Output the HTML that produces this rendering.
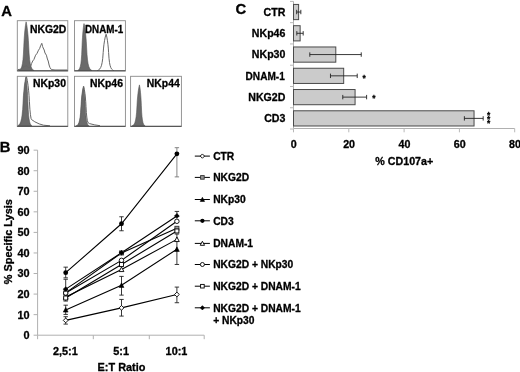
<!DOCTYPE html>
<html><head><meta charset="utf-8"><title>Figure</title>
<style>
html,body{margin:0;padding:0;background:#fff;}
body{width:520px;height:372px;overflow:hidden;font-family:"Liberation Sans",sans-serif;}
svg{display:block;will-change:transform;}
</style></head><body>
<svg width="520" height="372" viewBox="0 0 520 372">
<rect width="520" height="372" fill="#fff"/>
<g>
<clipPath id="c17_20"><rect x="17.3" y="20.7" width="50.5" height="50.3"/></clipPath>
<g clip-path="url(#c17_20)">
<path d="M18.97 70.7 L20.12 69.72 L21.16 68.25 L21.85 66.3 L22.49 63.37 L23 59.45 L23.43 54.07 L23.8 46.25 L24.08 40.38 L24.38 35.98 L24.84 30.6 L25.41 25.71 L26.1 21.8 L26.88 25.71 L27.53 30.6 L28.05 35.98 L28.39 40.38 L28.7 46.25 L29.12 54.07 L29.61 59.45 L30.18 63.37 L30.91 66.3 L31.69 68.25 L32.86 69.72 L34.16 70.7Z" fill="#6a6a6a" stroke="#555" stroke-width="0.6"/>
<path d="M17.5 69.6 L21 69.2 L24 66.5 L26.5 65.8 L28.5 67.6 L30.5 66.8 L31.6 63.5 L32.7 61 L33.9 59.5 L35.6 55.2 L37 53.4 L38.5 50.2 L39.6 48.6 L40.6 45.8 L41.8 43.3 L42.6 46.5 L43.2 48 L44.2 50 L45 53 L46.4 55.2 L47.4 59 L48.2 61 L49.1 65 L50 67.6 L51.4 69.6 L55 70 L67.8 70" fill="none" stroke="#666" stroke-width="1" stroke-linejoin="round"/>
</g>
<rect x="17.3" y="20.7" width="50.5" height="50.3" fill="none" stroke="#8a8a8a" stroke-width="0.9"/>
<line x1="17.3" y1="70.7" x2="67.8" y2="70.7" stroke="#444" stroke-width="1.1"/>
<text x="30" y="32.8" font-size="10.4" font-family="Liberation Sans, sans-serif" font-weight="bold" stroke="#000" stroke-width="0.3" stroke-linejoin="round" fill="#000">NKG2D</text>
</g>
<g>
<clipPath id="c74_20"><rect x="74.5" y="20.7" width="50.9" height="50.3"/></clipPath>
<g clip-path="url(#c74_20)">
<path d="M77.8 70.7 L78.8 69.76 L79.7 68.34 L80.3 66.46 L80.86 63.64 L81.3 59.87 L81.68 54.69 L82 47.15 L82.24 41.5 L82.5 37.26 L82.9 32.08 L83.4 27.37 L84 23.6 L84.78 27.37 L85.43 32.08 L85.95 37.26 L86.29 41.5 L86.6 47.15 L87.02 54.69 L87.51 59.87 L88.08 63.64 L88.81 66.46 L89.59 68.34 L90.76 69.76 L92.06 70.7Z" fill="#6a6a6a" stroke="#555" stroke-width="0.6"/>
<path d="M97.11 70.7 L98.56 69.97 L99.86 68.88 L100.73 67.42 L101.55 65.23 L102.18 62.31 L102.74 58.29 L103.2 52.45 L103.55 48.07 L103.92 44.79 L104.5 40.77 L105.23 37.12 L106.1 34.2 L106.85 37.12 L107.47 40.77 L107.97 44.79 L108.3 48.07 L108.6 52.45 L109 58.29 L109.47 62.31 L110.02 65.23 L110.72 67.42 L111.47 68.88 L112.6 69.97 L113.85 70.7" fill="none" stroke="#666" stroke-width="1" stroke-linejoin="round"/>
</g>
<rect x="74.5" y="20.7" width="50.9" height="50.3" fill="none" stroke="#8a8a8a" stroke-width="0.9"/>
<line x1="74.5" y1="70.7" x2="125.4" y2="70.7" stroke="#444" stroke-width="1.1"/>
<text x="85" y="32.8" font-size="10.4" textLength="38.2" lengthAdjust="spacingAndGlyphs" font-family="Liberation Sans, sans-serif" font-weight="bold" stroke="#000" stroke-width="0.3" stroke-linejoin="round" fill="#000">DNAM-1</text>
</g>
<g>
<clipPath id="c17_76"><rect x="17.3" y="76.3" width="50.5" height="50.2"/></clipPath>
<g clip-path="url(#c17_76)">
<path d="M17.22 126.2 L18.62 125.22 L19.88 123.75 L20.72 121.79 L21.5 118.85 L22.12 114.93 L22.65 109.54 L23.1 101.7 L23.44 95.82 L23.8 91.41 L24.36 86.02 L25.06 81.12 L25.9 77.2 L26.5 81.12 L27 86.02 L27.4 91.41 L27.66 95.82 L27.9 101.7 L28.22 109.54 L28.6 114.93 L29.04 118.85 L29.6 121.79 L30.2 123.75 L31.1 125.22 L32.1 126.2Z" fill="#6a6a6a" stroke="#555" stroke-width="0.6"/>
<path d="M18.65 126.2 L19.9 125.2 L21.02 123.71 L21.77 121.72 L22.47 118.73 L23.02 114.75 L23.5 109.27 L23.9 101.3 L24.2 95.32 L24.52 90.84 L25.02 85.36 L25.65 80.38 L26.4 76.4 L27.3 80.38 L28.05 85.36 L28.65 90.84 L29.04 95.32 L29.4 101.3 L29.88 109.27 L30.45 114.75 L31.11 118.73 L31.5 119.5 L34.8 121.8 L39.2 123.9 L43.5 125.2 L50 125.8" fill="none" stroke="#666" stroke-width="1" stroke-linejoin="round"/>
</g>
<rect x="17.3" y="76.3" width="50.5" height="50.2" fill="none" stroke="#8a8a8a" stroke-width="0.9"/>
<line x1="17.3" y1="126.2" x2="67.8" y2="126.2" stroke="#444" stroke-width="1.1"/>
<text x="33" y="87" font-size="10.4" font-family="Liberation Sans, sans-serif" font-weight="bold" stroke="#000" stroke-width="0.3" stroke-linejoin="round" fill="#000">NKp30</text>
</g>
<g>
<clipPath id="c74_76"><rect x="74.5" y="76.3" width="50.9" height="50.2"/></clipPath>
<g clip-path="url(#c74_76)">
<path d="M75.86 126.2 L77.08 125.4 L78.18 124.2 L78.92 122.61 L79.6 120.22 L80.14 117.02 L80.61 112.63 L81 106.25 L81.29 101.46 L81.61 97.87 L82.1 93.48 L82.72 89.49 L83.45 86.3 L84.02 89.49 L84.5 93.48 L84.88 97.87 L85.12 101.46 L85.35 106.25 L85.65 112.63 L86.02 117.02 L86.43 120.22 L86.97 122.61 L87.53 124.2 L88.39 125.4 L89.34 126.2Z" fill="#6a6a6a" stroke="#555" stroke-width="0.6"/>
<path d="M76.57 126.2 L77.72 125.41 L78.76 124.22 L79.45 122.63 L80.09 120.25 L80.59 117.07 L81.03 112.7 L81.4 106.35 L81.68 101.59 L81.98 98.01 L82.44 93.65 L83.01 89.68 L83.7 86.5 L84.39 89.68 L84.97 93.65 L85.42 98.01 L85.72 101.59 L86 106.35 L86.37 112.7 L86.81 117.07 L87.31 120.25 L87.95 122.63 L88 122.6 L89.5 123.6 L94.8 124.9 L100 125.7" fill="none" stroke="#666" stroke-width="1" stroke-linejoin="round"/>
</g>
<rect x="74.5" y="76.3" width="50.9" height="50.2" fill="none" stroke="#8a8a8a" stroke-width="0.9"/>
<line x1="74.5" y1="126.2" x2="125.4" y2="126.2" stroke="#444" stroke-width="1.1"/>
<text x="90" y="87" font-size="10.4" font-family="Liberation Sans, sans-serif" font-weight="bold" stroke="#000" stroke-width="0.3" stroke-linejoin="round" fill="#000">NKp46</text>
</g>
<g>
<clipPath id="c130_76"><rect x="130.6" y="76.3" width="50.8" height="50.2"/></clipPath>
<g clip-path="url(#c130_76)">
<path d="M131.85 126.2 L133.08 125.37 L134.18 124.14 L134.92 122.48 L135.6 120.01 L136.14 116.7 L136.61 112.16 L137 105.55 L137.29 100.59 L137.61 96.88 L138.1 92.33 L138.71 88.2 L139.45 84.9 L140.02 88.2 L140.49 92.33 L140.88 96.88 L141.12 100.59 L141.35 105.55 L141.65 112.16 L142.01 116.7 L142.43 120.01 L142.96 122.48 L143.53 124.14 L144.39 125.37 L145.34 126.2Z" fill="#6a6a6a" stroke="#555" stroke-width="0.6"/>
</g>
<rect x="130.6" y="76.3" width="50.8" height="50.2" fill="none" stroke="#8a8a8a" stroke-width="0.9"/>
<line x1="130.6" y1="126.2" x2="181.4" y2="126.2" stroke="#444" stroke-width="1.1"/>
<text x="146.8" y="87" font-size="10.4" font-family="Liberation Sans, sans-serif" font-weight="bold" stroke="#000" stroke-width="0.3" stroke-linejoin="round" fill="#000">NKp44</text>
</g>
<text x="1.2" y="15.6" font-size="14.8" font-family="Liberation Sans, sans-serif" font-weight="bold" stroke="#000" stroke-width="0.3" stroke-linejoin="round">A</text>
<text x="-0.3" y="151.8" font-size="14.8" font-family="Liberation Sans, sans-serif" font-weight="bold" stroke="#000" stroke-width="0.3" stroke-linejoin="round">B</text>
<text x="235.6" y="13.5" font-size="14.8" font-family="Liberation Sans, sans-serif" font-weight="bold" stroke="#000" stroke-width="0.3" stroke-linejoin="round">C</text>
<line x1="37.6" y1="150.16" x2="37.6" y2="335.2" stroke="#b0b0b0" stroke-width="1"/>
<line x1="37.6" y1="335.2" x2="204.2" y2="335.2" stroke="#b0b0b0" stroke-width="1"/>
<line x1="33.6" y1="335.2" x2="37.6" y2="335.2" stroke="#b0b0b0" stroke-width="1"/>
<text x="29.5" y="339.1" font-size="10.9" text-anchor="end" font-family="Liberation Sans, sans-serif" font-weight="bold" stroke="#000" stroke-width="0.3" stroke-linejoin="round">0</text>
<line x1="33.6" y1="314.64" x2="37.6" y2="314.64" stroke="#b0b0b0" stroke-width="1"/>
<text x="29.5" y="318.54" font-size="10.9" text-anchor="end" font-family="Liberation Sans, sans-serif" font-weight="bold" stroke="#000" stroke-width="0.3" stroke-linejoin="round">10</text>
<line x1="33.6" y1="294.08" x2="37.6" y2="294.08" stroke="#b0b0b0" stroke-width="1"/>
<text x="29.5" y="297.98" font-size="10.9" text-anchor="end" font-family="Liberation Sans, sans-serif" font-weight="bold" stroke="#000" stroke-width="0.3" stroke-linejoin="round">20</text>
<line x1="33.6" y1="273.52" x2="37.6" y2="273.52" stroke="#b0b0b0" stroke-width="1"/>
<text x="29.5" y="277.42" font-size="10.9" text-anchor="end" font-family="Liberation Sans, sans-serif" font-weight="bold" stroke="#000" stroke-width="0.3" stroke-linejoin="round">30</text>
<line x1="33.6" y1="252.96" x2="37.6" y2="252.96" stroke="#b0b0b0" stroke-width="1"/>
<text x="29.5" y="256.86" font-size="10.9" text-anchor="end" font-family="Liberation Sans, sans-serif" font-weight="bold" stroke="#000" stroke-width="0.3" stroke-linejoin="round">40</text>
<line x1="33.6" y1="232.4" x2="37.6" y2="232.4" stroke="#b0b0b0" stroke-width="1"/>
<text x="29.5" y="236.3" font-size="10.9" text-anchor="end" font-family="Liberation Sans, sans-serif" font-weight="bold" stroke="#000" stroke-width="0.3" stroke-linejoin="round">50</text>
<line x1="33.6" y1="211.84" x2="37.6" y2="211.84" stroke="#b0b0b0" stroke-width="1"/>
<text x="29.5" y="215.74" font-size="10.9" text-anchor="end" font-family="Liberation Sans, sans-serif" font-weight="bold" stroke="#000" stroke-width="0.3" stroke-linejoin="round">60</text>
<line x1="33.6" y1="191.28" x2="37.6" y2="191.28" stroke="#b0b0b0" stroke-width="1"/>
<text x="29.5" y="195.18" font-size="10.9" text-anchor="end" font-family="Liberation Sans, sans-serif" font-weight="bold" stroke="#000" stroke-width="0.3" stroke-linejoin="round">70</text>
<line x1="33.6" y1="170.72" x2="37.6" y2="170.72" stroke="#b0b0b0" stroke-width="1"/>
<text x="29.5" y="174.62" font-size="10.9" text-anchor="end" font-family="Liberation Sans, sans-serif" font-weight="bold" stroke="#000" stroke-width="0.3" stroke-linejoin="round">80</text>
<line x1="33.6" y1="150.16" x2="37.6" y2="150.16" stroke="#b0b0b0" stroke-width="1"/>
<text x="29.5" y="154.06" font-size="10.9" text-anchor="end" font-family="Liberation Sans, sans-serif" font-weight="bold" stroke="#000" stroke-width="0.3" stroke-linejoin="round">90</text>
<line x1="37.6" y1="335.2" x2="37.6" y2="339.2" stroke="#b0b0b0" stroke-width="1"/>
<line x1="93.3" y1="335.2" x2="93.3" y2="339.2" stroke="#b0b0b0" stroke-width="1"/>
<line x1="149.3" y1="335.2" x2="149.3" y2="339.2" stroke="#b0b0b0" stroke-width="1"/>
<line x1="204.2" y1="335.2" x2="204.2" y2="339.2" stroke="#b0b0b0" stroke-width="1"/>
<text x="65.3" y="355.1" font-size="10.9" text-anchor="middle" font-family="Liberation Sans, sans-serif" font-weight="bold" stroke="#000" stroke-width="0.3" stroke-linejoin="round">2,5:1</text>
<text x="121.1" y="355.1" font-size="10.9" text-anchor="middle" font-family="Liberation Sans, sans-serif" font-weight="bold" stroke="#000" stroke-width="0.3" stroke-linejoin="round">5:1</text>
<text x="176.5" y="355.1" font-size="10.9" text-anchor="middle" font-family="Liberation Sans, sans-serif" font-weight="bold" stroke="#000" stroke-width="0.3" stroke-linejoin="round">10:1</text>
<text x="121.5" y="370.8" font-size="10.9" text-anchor="middle" font-family="Liberation Sans, sans-serif" font-weight="bold" stroke="#000" stroke-width="0.3" stroke-linejoin="round">E:T Ratio</text>
<text transform="translate(11.6,241.7) rotate(-90)" font-size="10.9" text-anchor="middle" font-family="Liberation Sans, sans-serif" font-weight="bold" stroke="#000" stroke-width="0.3" stroke-linejoin="round">% Specific Lysis</text>
<polyline points="65.7,320.4 121.5,307.86 176.9,294.49" fill="none" stroke="#000" stroke-width="1.1"/>
<polyline points="65.7,292.85 121.5,252.96 176.9,228.29" fill="none" stroke="#000" stroke-width="1.1"/>
<polyline points="65.7,309.91 121.5,285.24 176.9,249.26" fill="none" stroke="#000" stroke-width="1.1"/>
<polyline points="65.7,272.7 121.5,223.76 176.9,153.86" fill="none" stroke="#000" stroke-width="1.1"/>
<polyline points="65.7,296.96 121.5,269.41 176.9,239.39" fill="none" stroke="#000" stroke-width="1.1"/>
<polyline points="65.7,293.05 121.5,260.36 176.9,221.3" fill="none" stroke="#000" stroke-width="1.1"/>
<polyline points="65.7,297.99 121.5,264.47 176.9,230.96" fill="none" stroke="#000" stroke-width="1.1"/>
<polyline points="65.7,289.15 121.5,252.75 176.9,215.95" fill="none" stroke="#000" stroke-width="1.1"/>
<path d="M65.7 316.7V324.1M63.5 316.7H67.9M63.5 324.1H67.9" stroke="#222" stroke-width="0.9" fill="none"/>
<path d="M121.5 299.43V316.08M119.3 299.43H123.7M119.3 316.08H123.7" stroke="#222" stroke-width="0.9" fill="none"/>
<path d="M176.9 287.09V302.72M174.70000000000002 287.09H179.1M174.70000000000002 302.72H179.1" stroke="#222" stroke-width="0.9" fill="none"/>
<path d="M65.7 305.18V314.43M63.5 305.18H67.9M63.5 314.43H67.9" stroke="#222" stroke-width="0.9" fill="none"/>
<path d="M121.5 276.4V295.11M119.3 276.4H123.7M119.3 295.11H123.7" stroke="#222" stroke-width="0.9" fill="none"/>
<path d="M176.9 234.04V264.47M174.70000000000002 234.04H179.1M174.70000000000002 264.47H179.1" stroke="#222" stroke-width="0.9" fill="none"/>
<path d="M65.7 267.15V277.84M63.5 267.15H67.9M63.5 277.84H67.9" stroke="#222" stroke-width="0.9" fill="none"/>
<path d="M121.5 216.77V230.76M119.3 216.77H123.7M119.3 230.76H123.7" stroke="#222" stroke-width="0.9" fill="none"/>
<path d="M176.9 147.69V176.89M174.70000000000002 147.69H179.1M174.70000000000002 176.89H179.1" stroke="#777" stroke-width="0.9" fill="none"/>
<path d="M65.7 297.99V301.07M63.5 297.99H67.9M63.5 301.07H67.9" stroke="#222" stroke-width="0.9" fill="none"/>
<path d="M65.7 279.28V289.15M63.5 279.28H67.9M63.5 289.15H67.9" stroke="#222" stroke-width="0.9" fill="none"/>
<path d="M176.9 211.43V215.95M174.70000000000002 211.43H179.1M174.70000000000002 215.95H179.1" stroke="#222" stroke-width="0.9" fill="none"/>
<path d="M65.7 318 L68.1 320.4 L65.7 322.8 L63.3 320.4Z" fill="#fff" stroke="#000" stroke-width="0.9"/>
<path d="M121.5 305.46 L123.9 307.86 L121.5 310.26 L119.1 307.86Z" fill="#fff" stroke="#000" stroke-width="0.9"/>
<path d="M176.9 292.09 L179.3 294.49 L176.9 296.89 L174.5 294.49Z" fill="#fff" stroke="#000" stroke-width="0.9"/>
<rect x="63.7" y="290.85" width="4" height="4" fill="#999" stroke="#333" stroke-width="0.9"/>
<rect x="119.5" y="250.96" width="4" height="4" fill="#999" stroke="#333" stroke-width="0.9"/>
<rect x="174.9" y="226.29" width="4" height="4" fill="#999" stroke="#333" stroke-width="0.9"/>
<path d="M65.7 307.51 L68.1 312.07 L63.3 312.07Z" fill="#000" stroke="#000" stroke-width="0.6"/>
<path d="M121.5 282.84 L123.9 287.4 L119.1 287.4Z" fill="#000" stroke="#000" stroke-width="0.6"/>
<path d="M176.9 246.86 L179.3 251.42 L174.5 251.42Z" fill="#000" stroke="#000" stroke-width="0.6"/>
<circle cx="65.7" cy="272.7" r="2.4" fill="#000"/>
<circle cx="121.5" cy="223.76" r="2.4" fill="#000"/>
<circle cx="176.9" cy="153.86" r="2.4" fill="#000"/>
<path d="M65.7 294.56 L68.1 299.12 L63.3 299.12Z" fill="#fff" stroke="#000" stroke-width="0.9"/>
<path d="M121.5 267.01 L123.9 271.57 L119.1 271.57Z" fill="#fff" stroke="#000" stroke-width="0.9"/>
<path d="M176.9 236.99 L179.3 241.55 L174.5 241.55Z" fill="#fff" stroke="#000" stroke-width="0.9"/>
<circle cx="65.7" cy="293.05" r="2.24" fill="#fff" stroke="#000" stroke-width="0.9"/>
<circle cx="121.5" cy="260.36" r="2.24" fill="#fff" stroke="#000" stroke-width="0.9"/>
<circle cx="176.9" cy="221.3" r="2.24" fill="#fff" stroke="#000" stroke-width="0.9"/>
<rect x="63.7" y="295.99" width="4" height="4" fill="#fff" stroke="#000" stroke-width="0.9"/>
<rect x="119.5" y="262.47" width="4" height="4" fill="#fff" stroke="#000" stroke-width="0.9"/>
<rect x="174.9" y="228.96" width="4" height="4" fill="#fff" stroke="#000" stroke-width="0.9"/>
<path d="M65.7 286.75 L68.1 289.15 L65.7 291.55 L63.3 289.15Z" fill="#000" stroke="#000" stroke-width="0.6"/>
<path d="M121.5 250.35 L123.9 252.75 L121.5 255.15 L119.1 252.75Z" fill="#000" stroke="#000" stroke-width="0.6"/>
<path d="M176.9 213.55 L179.3 215.95 L176.9 218.35 L174.5 215.95Z" fill="#000" stroke="#000" stroke-width="0.6"/>
<line x1="194.8" y1="156.1" x2="209.9" y2="156.1" stroke="#000" stroke-width="1"/>
<path d="M202.4 153.94 L204.56 156.1 L202.4 158.26 L200.24 156.1Z" fill="#fff" stroke="#000" stroke-width="0.9"/>
<text x="213.2" y="159.9" font-size="10.25" font-family="Liberation Sans, sans-serif" font-weight="bold" stroke="#000" stroke-width="0.3" stroke-linejoin="round">CTR</text>
<line x1="194.8" y1="177.4" x2="209.9" y2="177.4" stroke="#000" stroke-width="1"/>
<rect x="200.6" y="175.6" width="3.6" height="3.6" fill="#999" stroke="#333" stroke-width="0.9"/>
<text x="213.2" y="181.2" font-size="10.25" font-family="Liberation Sans, sans-serif" font-weight="bold" stroke="#000" stroke-width="0.3" stroke-linejoin="round">NKG2D</text>
<line x1="194.8" y1="199.5" x2="209.9" y2="199.5" stroke="#000" stroke-width="1"/>
<path d="M202.4 197.34 L204.56 201.44 L200.24 201.44Z" fill="#000" stroke="#000" stroke-width="0.6"/>
<text x="213.2" y="203.3" font-size="10.25" font-family="Liberation Sans, sans-serif" font-weight="bold" stroke="#000" stroke-width="0.3" stroke-linejoin="round">NKp30</text>
<line x1="194.8" y1="220.8" x2="209.9" y2="220.8" stroke="#000" stroke-width="1"/>
<circle cx="202.4" cy="220.8" r="2.16" fill="#000"/>
<text x="213.2" y="224.6" font-size="10.25" font-family="Liberation Sans, sans-serif" font-weight="bold" stroke="#000" stroke-width="0.3" stroke-linejoin="round">CD3</text>
<line x1="194.8" y1="243.4" x2="209.9" y2="243.4" stroke="#000" stroke-width="1"/>
<path d="M202.4 241.24 L204.56 245.34 L200.24 245.34Z" fill="#fff" stroke="#000" stroke-width="0.9"/>
<text x="213.2" y="247.2" font-size="10.25" font-family="Liberation Sans, sans-serif" font-weight="bold" stroke="#000" stroke-width="0.3" stroke-linejoin="round">DNAM-1</text>
<line x1="194.8" y1="264.5" x2="209.9" y2="264.5" stroke="#000" stroke-width="1"/>
<circle cx="202.4" cy="264.5" r="2.02" fill="#fff" stroke="#000" stroke-width="0.9"/>
<text x="213.2" y="268.3" font-size="10.25" font-family="Liberation Sans, sans-serif" font-weight="bold" stroke="#000" stroke-width="0.3" stroke-linejoin="round">NKG2D + NKp30</text>
<line x1="194.8" y1="286.2" x2="209.9" y2="286.2" stroke="#000" stroke-width="1"/>
<rect x="200.6" y="284.4" width="3.6" height="3.6" fill="#fff" stroke="#000" stroke-width="0.9"/>
<text x="213.2" y="290" font-size="10.25" font-family="Liberation Sans, sans-serif" font-weight="bold" stroke="#000" stroke-width="0.3" stroke-linejoin="round">NKG2D + DNAM-1</text>
<line x1="194.8" y1="307.8" x2="209.9" y2="307.8" stroke="#000" stroke-width="1"/>
<path d="M202.4 305.64 L204.56 307.8 L202.4 309.96 L200.24 307.8Z" fill="#000" stroke="#000" stroke-width="0.6"/>
<text x="213.2" y="311.6" font-size="10.25" font-family="Liberation Sans, sans-serif" font-weight="bold" stroke="#000" stroke-width="0.3" stroke-linejoin="round">NKG2D + DNAM-1</text>
<text x="213.2" y="324" font-size="10.25" font-family="Liberation Sans, sans-serif" font-weight="bold" stroke="#000" stroke-width="0.3" stroke-linejoin="round">+ NKp30</text>
<line x1="293.5" y1="1.4" x2="293.5" y2="128.5" stroke="#b0b0b0" stroke-width="1"/>
<line x1="293.5" y1="128.5" x2="514.7" y2="128.5" stroke="#b0b0b0" stroke-width="1"/>
<line x1="290.0" y1="1.4" x2="293.5" y2="1.4" stroke="#b8b8b8" stroke-width="1"/>
<line x1="290.0" y1="22.67" x2="293.5" y2="22.67" stroke="#b8b8b8" stroke-width="1"/>
<line x1="290.0" y1="43.94" x2="293.5" y2="43.94" stroke="#b8b8b8" stroke-width="1"/>
<line x1="290.0" y1="65.21" x2="293.5" y2="65.21" stroke="#b8b8b8" stroke-width="1"/>
<line x1="290.0" y1="86.48" x2="293.5" y2="86.48" stroke="#b8b8b8" stroke-width="1"/>
<line x1="290.0" y1="107.75" x2="293.5" y2="107.75" stroke="#b8b8b8" stroke-width="1"/>
<line x1="290.0" y1="129.02" x2="293.5" y2="129.02" stroke="#b8b8b8" stroke-width="1"/>
<line x1="293.5" y1="128.5" x2="293.5" y2="132.3" stroke="#b8b8b8" stroke-width="1"/>
<text x="293.8" y="147.8" font-size="10.7" text-anchor="middle" font-family="Liberation Sans, sans-serif" font-weight="bold" stroke="#000" stroke-width="0.3" stroke-linejoin="round">0</text>
<line x1="348.8" y1="128.5" x2="348.8" y2="132.3" stroke="#b8b8b8" stroke-width="1"/>
<text x="349.1" y="147.8" font-size="10.7" text-anchor="middle" font-family="Liberation Sans, sans-serif" font-weight="bold" stroke="#000" stroke-width="0.3" stroke-linejoin="round">20</text>
<line x1="404.1" y1="128.5" x2="404.1" y2="132.3" stroke="#b8b8b8" stroke-width="1"/>
<text x="404.4" y="147.8" font-size="10.7" text-anchor="middle" font-family="Liberation Sans, sans-serif" font-weight="bold" stroke="#000" stroke-width="0.3" stroke-linejoin="round">40</text>
<line x1="459.4" y1="128.5" x2="459.4" y2="132.3" stroke="#b8b8b8" stroke-width="1"/>
<text x="459.7" y="147.8" font-size="10.7" text-anchor="middle" font-family="Liberation Sans, sans-serif" font-weight="bold" stroke="#000" stroke-width="0.3" stroke-linejoin="round">60</text>
<line x1="514.7" y1="128.5" x2="514.7" y2="132.3" stroke="#b8b8b8" stroke-width="1"/>
<text x="515" y="147.8" font-size="10.7" text-anchor="middle" font-family="Liberation Sans, sans-serif" font-weight="bold" stroke="#000" stroke-width="0.3" stroke-linejoin="round">80</text>
<text x="404.3" y="165.3" font-size="10.7" text-anchor="middle" font-family="Liberation Sans, sans-serif" font-weight="bold" stroke="#000" stroke-width="0.3" stroke-linejoin="round">% CD107a+</text>
<rect x="293.5" y="4.44" width="5.12" height="15.2" fill="#cbcbcb" stroke="#4a4a4a" stroke-width="1"/>
<path d="M296.68 12.04H300.83M296.68 9.84V14.23M300.83 9.84V14.23" stroke="#222" stroke-width="0.9" fill="none"/>
<text x="285.4" y="15.84" font-size="10.6" text-anchor="end" font-family="Liberation Sans, sans-serif" font-weight="bold" stroke="#000" stroke-width="0.3" stroke-linejoin="round">CTR</text>
<rect x="293.5" y="25.7" width="6.64" height="15.2" fill="#cbcbcb" stroke="#4a4a4a" stroke-width="1"/>
<path d="M296.82 33.3H303.18M296.82 31.11V35.51M303.18 31.11V35.51" stroke="#222" stroke-width="0.9" fill="none"/>
<text x="285.4" y="37.1" font-size="10.6" text-anchor="end" font-family="Liberation Sans, sans-serif" font-weight="bold" stroke="#000" stroke-width="0.3" stroke-linejoin="round">NKp46</text>
<rect x="293.5" y="46.97" width="42.3" height="15.2" fill="#cbcbcb" stroke="#4a4a4a" stroke-width="1"/>
<path d="M309.81 54.57H361.24M309.81 52.37V56.77M361.24 52.37V56.77" stroke="#222" stroke-width="0.9" fill="none"/>
<text x="285.4" y="58.37" font-size="10.6" text-anchor="end" font-family="Liberation Sans, sans-serif" font-weight="bold" stroke="#000" stroke-width="0.3" stroke-linejoin="round">NKp30</text>
<rect x="293.5" y="68.25" width="50.18" height="15.2" fill="#cbcbcb" stroke="#4a4a4a" stroke-width="1"/>
<path d="M330.47 75.84H357.23M330.47 73.64V78.05M357.23 73.64V78.05" stroke="#222" stroke-width="0.9" fill="none"/>
<text x="284.8" y="79.64" font-size="10.6" textLength="39.2" lengthAdjust="spacingAndGlyphs" text-anchor="end" font-family="Liberation Sans, sans-serif" font-weight="bold" stroke="#000" stroke-width="0.3" stroke-linejoin="round">DNAM-1</text>
<rect x="293.5" y="89.52" width="61.58" height="15.2" fill="#cbcbcb" stroke="#4a4a4a" stroke-width="1"/>
<path d="M342.77 97.12H366.61M342.77 94.92V99.32M366.61 94.92V99.32" stroke="#222" stroke-width="0.9" fill="none"/>
<text x="285.4" y="100.92" font-size="10.6" text-anchor="end" font-family="Liberation Sans, sans-serif" font-weight="bold" stroke="#000" stroke-width="0.3" stroke-linejoin="round">NKG2D</text>
<rect x="293.5" y="110.79" width="180.55" height="15.2" fill="#cbcbcb" stroke="#4a4a4a" stroke-width="1"/>
<path d="M464.38 118.39H483.18M464.38 116.19V120.59M483.18 116.19V120.59" stroke="#222" stroke-width="0.9" fill="none"/>
<text x="285.4" y="122.19" font-size="10.6" text-anchor="end" font-family="Liberation Sans, sans-serif" font-weight="bold" stroke="#000" stroke-width="0.3" stroke-linejoin="round">CD3</text>
<text x="364.2" y="80.5" font-size="8.4" text-anchor="middle" font-family="Liberation Sans, sans-serif" font-weight="bold" stroke="#000" stroke-width="0.3" stroke-linejoin="round">*</text>
<text x="373.9" y="100.9" font-size="8.4" text-anchor="middle" font-family="Liberation Sans, sans-serif" font-weight="bold" stroke="#000" stroke-width="0.3" stroke-linejoin="round">*</text>
<text x="488.6" y="118.1" font-size="8.4" text-anchor="middle" font-family="Liberation Sans, sans-serif" font-weight="bold" stroke="#000" stroke-width="0.3" stroke-linejoin="round">*</text>
<text x="488.6" y="122.1" font-size="8.4" text-anchor="middle" font-family="Liberation Sans, sans-serif" font-weight="bold" stroke="#000" stroke-width="0.3" stroke-linejoin="round">*</text>
<text x="488.6" y="125.9" font-size="8.4" text-anchor="middle" font-family="Liberation Sans, sans-serif" font-weight="bold" stroke="#000" stroke-width="0.3" stroke-linejoin="round">*</text>
</svg>
</body></html>
